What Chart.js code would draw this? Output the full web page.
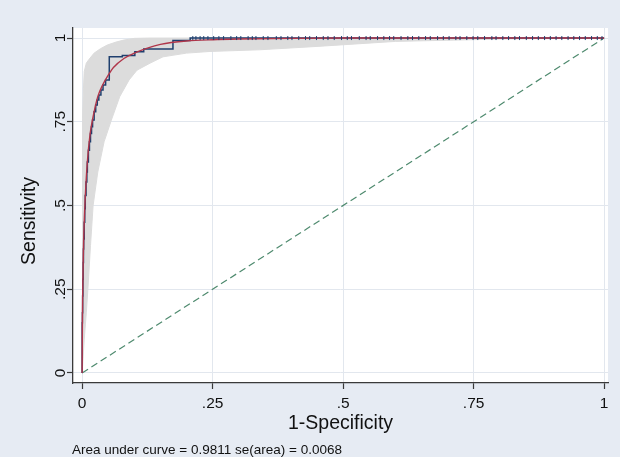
<!DOCTYPE html>
<html>
<head>
<meta charset="utf-8">
<script src="https://cdn.jsdelivr.net/npm/chart.js@4.4.0/dist/chart.umd.min.js"></script>
<style>
  html, body { margin: 0; padding: 0; background: #e6ebf3; }
  #wrap { position: relative; width: 620px; height: 457px; }
</style>
</head>
<body>
<div id="wrap"><canvas id="roc" width="620" height="457"></canvas></div>
<script>
// ticks
const xTicks = [0, 0.25, 0.5, 0.75, 1];
const xTickLabels = ["0", ".25", ".5", ".75", "1"];
const yTicks = [0, 0.25, 0.5, 0.75, 1];
const yTickLabels = ["0", ".25", ".5", ".75", "1"];

// fitted (smooth) ROC curve
const fitFpr  = [0, 0.0005, 0.001, 0.002, 0.003, 0.005, 0.0075, 0.01, 0.015, 0.02, 0.03, 0.04, 0.05, 0.06, 0.08, 0.1, 0.125, 0.15, 0.2, 0.25, 0.3, 0.4, 0.5, 1];
const fitSens = [0, 0.15, 0.23, 0.33, 0.40, 0.49, 0.57, 0.63, 0.71, 0.757, 0.825, 0.862, 0.889, 0.912, 0.939, 0.955, 0.970, 0.981, 0.991, 0.995, 0.997, 0.999, 1, 1];

// empirical step curve
const empFpr  = [0, 0, 0.0005, 0.001, 0.0015, 0.002, 0.0025, 0.003, 0.004, 0.005, 0.006, 0.0075, 0.009, 0.01, 0.012, 0.014,
  0.016, 0.018, 0.02, 0.023, 0.026, 0.029, 0.032, 0.036, 0.04, 0.045, 0.052, 0.077, 0.101, 0.118, 0.174, 0.207, 1];
const empSens = [0, 0.15, 0.18, 0.23, 0.28, 0.33, 0.37, 0.40, 0.45, 0.49, 0.53, 0.57, 0.60, 0.63, 0.665, 0.69,
  0.715, 0.735, 0.755, 0.78, 0.80, 0.815, 0.83, 0.845, 0.86, 0.875, 0.944, 0.948, 0.959, 0.967, 0.993, 1, 1];

// small step marks along the top
const topMarkFpr = [0.212, 0.218, 0.226, 0.233, 0.241, 0.252, 0.262, 0.271, 0.285, 0.296, 0.304, 0.318, 0.326, 0.333,
  0.347, 0.356, 0.372, 0.381, 0.394, 0.402, 0.415, 0.428, 0.436, 0.449, 0.462, 0.471, 0.483, 0.497, 0.508, 0.516,
  0.531, 0.544, 0.552, 0.566, 0.578, 0.589, 0.597, 0.611, 0.624, 0.633, 0.645, 0.658, 0.667, 0.681, 0.692, 0.703,
  0.716, 0.724, 0.737, 0.749, 0.758, 0.771, 0.785, 0.793, 0.806, 0.817, 0.829, 0.838, 0.851, 0.863, 0.874, 0.886,
  0.897, 0.908, 0.919, 0.931, 0.942, 0.953, 0.964, 0.976, 0.987, 0.996];

// confidence band
const bandUpperFpr  = [0, 0.0003, 0.0008, 0.0015, 0.0025, 0.004, 0.008, 0.013, 0.023, 0.035, 0.048, 0.065, 0.08, 0.1, 0.13, 1];
const bandUpperSens = [0, 0.40, 0.62, 0.76, 0.85, 0.90, 0.925, 0.936, 0.955, 0.968, 0.979, 0.988, 0.994, 0.999, 1, 1];
const bandLowerFpr  = [0, 0.004, 0.008, 0.011, 0.016, 0.021, 0.03, 0.042, 0.056, 0.072, 0.09, 0.105, 0.13, 0.155, 0.2, 0.245, 0.34, 0.45, 0.6, 0.8, 1];
const bandLowerSens = [0, 0.1, 0.18, 0.25, 0.38, 0.5, 0.6, 0.69, 0.755, 0.825, 0.875, 0.904, 0.925, 0.944, 0.955, 0.96, 0.965, 0.975, 0.99, 0.997, 1];

// reference diagonal
const refFpr  = [0, 1];
const refSens = [0, 1];

const footnote = "Area under curve = 0.9811 se(area) = 0.0068";

const fam = "'Liberation Sans', Arial, Helvetica, sans-serif";
const bgColor = "#e6ebf3";
const gridColor = "#e2e7ee";
const axisColor = "#3a3a3a";
const textColor = "#111111";
const navy = "#1f3f6e";
const maroon = "#b0364a";
const bandColor = "#dcdcdc";
const refColor = "#4e8a6e";

function pts(xs, ys) { return xs.map((x, i) => ({x: x, y: ys[i]})); }

const frame = {
  id: "frame",
  beforeDraw(chart) {
    const ctx = chart.ctx, a = chart.chartArea;
    ctx.save();
    ctx.fillStyle = bgColor;
    ctx.fillRect(0, 0, chart.width, chart.height);
    ctx.fillStyle = "#ffffff";
    ctx.fillRect(a.left, a.top, a.right - a.left, a.bottom - a.top);
    ctx.restore();
  },
  afterDraw(chart) {
    const ctx = chart.ctx, ys = chart.scales.y;
    ctx.save();
    ctx.fillStyle = textColor;
    // y tick labels, rotated
    ctx.font = "15.5px " + fam;
    ctx.textAlign = "center";
    ctx.textBaseline = "alphabetic";
    yTicks.forEach((v, i) => {
      const py = ys.getPixelForValue(v);
      ctx.save();
      ctx.translate(64.5, py);
      ctx.rotate(-Math.PI / 2);
      ctx.fillText(yTickLabels[i], 0, 0);
      ctx.restore();
    });
    // y title
    ctx.font = "19.5px " + fam;
    ctx.save();
    ctx.translate(35, 221);
    ctx.rotate(-Math.PI / 2);
    ctx.fillText("Sensitivity", 0, 0);
    ctx.restore();
    // note
    ctx.font = "13.5px " + fam;
    ctx.textAlign = "left";
    ctx.fillText(footnote, 72, 454);
    ctx.restore();
  }
};

new Chart(document.getElementById("roc").getContext("2d"), {
  type: "line",
  data: {
    datasets: [
      {
        label: "marks",
        data: topMarkFpr.map(x => ({x: x, y: 1})),
        showLine: false,
        pointStyle: "line",
        rotation: 90,
        pointRadius: 2,
        borderColor: navy,
        borderWidth: 1
      },
      {
        label: "fit",
        data: pts(fitFpr, fitSens),
        borderColor: maroon,
        borderWidth: 1.4,
        pointRadius: 0,
        fill: false,
        cubicInterpolationMode: "monotone"
      },
      {
        label: "empirical",
        data: pts(empFpr, empSens),
        borderColor: navy,
        borderWidth: 1.5,
        pointRadius: 0,
        stepped: "before",
        fill: false
      },
      {
        label: "reference",
        data: pts(refFpr, refSens),
        borderColor: refColor,
        borderWidth: 1.2,
        borderDash: [7, 4],
        pointRadius: 0,
        fill: false
      },
      {
        label: "upper",
        data: pts(bandUpperFpr, bandUpperSens),
        borderColor: bandColor,
        borderWidth: 1,
        backgroundColor: bandColor,
        pointRadius: 0,
        fill: "+1"
      },
      {
        label: "lower",
        data: pts(bandLowerFpr, bandLowerSens),
        borderColor: bandColor,
        borderWidth: 1,
        pointRadius: 0,
        fill: false
      }
    ]
  },
  options: {
    responsive: false,
    animation: false,
    layout: { padding: { left: 0, top: 28, right: 12, bottom: 0 } },
    plugins: { legend: { display: false }, tooltip: { enabled: false } },
    scales: {
      x: {
        type: "linear",
        min: -0.0175,
        max: 1.0075,
        afterBuildTicks: s => { s.ticks = xTicks.map(v => ({value: v})); },
        afterFit: s => { s.height = 74; },
        grid: { color: gridColor, lineWidth: 1, drawTicks: true, tickLength: 6, tickColor: axisColor, tickWidth: 1.2 },
        border: { display: true, color: axisColor, width: 1.3 },
        ticks: {
          font: { family: fam, size: 15.5 },
          color: textColor,
          padding: 5.5,
          maxRotation: 0,
          callback: (v, i) => xTickLabels[i]
        },
        title: {
          display: true,
          text: "1-Specificity",
          font: { family: fam, size: 19.5 },
          color: textColor,
          padding: { top: 0, bottom: 22 }
        }
      },
      y: {
        type: "linear",
        min: -0.03,
        max: 1.03,
        afterBuildTicks: s => { s.ticks = yTicks.map(v => ({value: v})); },
        afterFit: s => { s.width = 73; },
        grid: { color: gridColor, lineWidth: 1, drawTicks: true, tickLength: 6, tickColor: axisColor, tickWidth: 1.2 },
        border: { display: true, color: axisColor, width: 1.3 },
        ticks: { display: false }
      }
    }
  },
  plugins: [frame]
});
</script>
</body>
</html>
